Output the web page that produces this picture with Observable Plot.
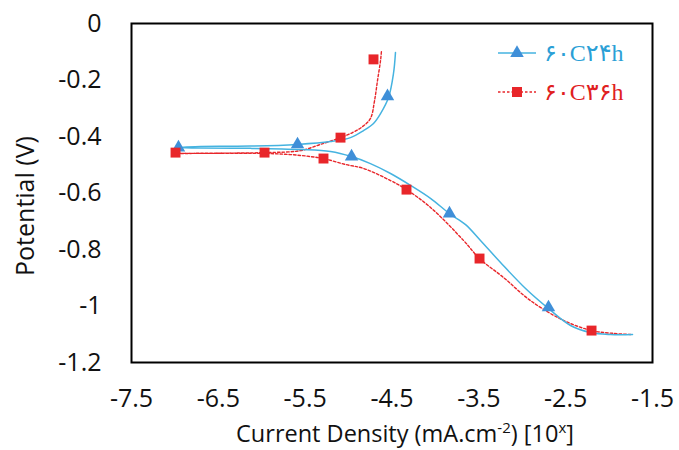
<!DOCTYPE html>
<html>
<head>
<meta charset="utf-8">
<script src="https://cdn.jsdelivr.net/npm/d3@7"></script>
<script src="https://cdn.jsdelivr.net/npm/@observablehq/plot@0.6"></script>
<style>
  html, body { margin: 0; padding: 0; background: #fff; }
  #chart { position: relative; width: 679px; height: 450px; }
  #chart svg { display: block; }
  .leg {
    position: absolute; left: 544px; height: 30px; line-height: 30px;
    font-family: 'Liberation Serif', 'DejaVu Serif', 'DejaVu Sans', serif;
    font-size: 24px; white-space: nowrap; direction: ltr; unicode-bidi: isolate;
  }
</style>
</head>
<body>
<div id="chart"></div>
<script>
// ---- Data ----
const seriesNames = ["\u06F6\u06F0C\u06F2\u06F4h", "\u06F6\u06F0C\u06F3\u06F6h"];

// 60C24h curve: cathodic end -> corrosion tip -> anodic branch
const blueX = [-1.730, -1.984, -2.214, -2.444, -2.698, -2.962, -3.250, -3.481, -3.653, -3.838,
               -4.057, -4.287, -4.517, -4.748, -4.966, -5.208, -5.554, -6.130, -6.705, -6.959,
               -6.705, -6.130, -5.588, -5.208, -4.978, -4.828, -4.713, -4.632, -4.540, -4.483, -4.460];
const blueY = [-1.101, -1.101, -1.094, -1.069, -1.009, -0.938, -0.846, -0.768, -0.712, -0.673,
               -0.619, -0.573, -0.531, -0.496, -0.471, -0.453, -0.446, -0.442, -0.441, -0.439,
               -0.435, -0.434, -0.428, -0.418, -0.404, -0.379, -0.354, -0.319, -0.262, -0.177, -0.103];

// 60C36h curve
const redX = [-1.753, -1.949, -2.202, -2.525, -2.905, -3.216, -3.492, -3.676, -4.057, -4.333,
              -4.517, -4.828, -5.035, -5.289, -5.439, -5.669, -5.968, -6.982,
              -5.968, -5.554, -5.323, -5.093, -4.955, -4.840, -4.748, -4.701, -4.667, -4.632, -4.621];
const redY = [-1.101, -1.097, -1.087, -1.051, -0.981, -0.899, -0.832, -0.768, -0.651, -0.588,
              -0.556, -0.513, -0.499, -0.478, -0.471, -0.464, -0.460, -0.460,
              -0.457, -0.450, -0.428, -0.404, -0.386, -0.365, -0.336, -0.273, -0.202, -0.131, -0.096];

// marker points
const blueMarkX = [-6.959, -5.588, -4.552, -4.966, -3.838, -2.698];
const blueMarkY = [-0.439, -0.428, -0.258, -0.471, -0.673, -1.005];
const redMarkX = [-6.993, -5.968, -5.289, -5.093, -4.713, -4.333, -3.492, -2.202];
const redMarkY = [-0.457, -0.457, -0.478, -0.404, -0.127, -0.588, -0.832, -1.087];

const xTicks = [-7.5, -6.5, -5.5, -4.5, -3.5, -2.5, -1.5];
const yTicks = [0, -0.2, -0.4, -0.6, -0.8, -1, -1.2];

// ---- Build tables ----
const blueLine = blueX.map((x, i) => ({x, y: blueY[i]}));
const redLine = redX.map((x, i) => ({x, y: redY[i]}));
const blueMarks = blueMarkX.map((x, i) => ({x, y: blueMarkY[i]}));
const redMarks = redMarkX.map((x, i) => ({x, y: redMarkY[i]}));

const BLUE_LINE = "#45b3e0";
const BLUE_MARK = "#3f8fd8";
const RED = "#e8262a";
const FONT = "'Open Sans', sans-serif";

const chart = Plot.plot({
  width: 679,
  height: 450,
  marginLeft: 131,
  marginRight: 27,
  marginTop: 23,
  marginBottom: 88,
  style: { fontFamily: FONT, fontSize: "25px", color: "#111", background: "#fff" },
  x: { domain: [-7.5, -1.5], ticks: xTicks, tickFormat: d => String(d), tickSize: 0, tickPadding: 27, label: null },
  y: { domain: [-1.2, 0], ticks: yTicks, tickFormat: d => d === 0 ? "0" : String(d), tickSize: 0, tickPadding: 30, label: null },
  marks: [
    Plot.line(redLine, { x: "x", y: "y", stroke: RED, strokeWidth: 1.4, strokeDasharray: "2.5,2", curve: "catmull-rom" }),
    Plot.line(blueLine, { x: "x", y: "y", stroke: BLUE_LINE, strokeWidth: 1.5, curve: "catmull-rom" }),
    Plot.dot(blueMarks, { x: "x", y: "y", symbol: "triangle", r: 5, fill: BLUE_MARK, stroke: "none" }),
    Plot.dot(redMarks, { x: "x", y: "y", symbol: "square", r: 5.6, fill: RED, stroke: "none" }),
    Plot.frame({ stroke: "#000", strokeWidth: 2 })
  ]
});

const host = document.getElementById("chart");
host.appendChild(chart);

// ---- Axis titles ----
const svg = d3.select(chart);

const xt = svg.append("text")
  .attr("x", 405).attr("y", 442)
  .attr("text-anchor", "middle")
  .style("font-family", FONT).style("font-size", "23.5px").attr("fill", "#111");
xt.append("tspan").text("Current Density (mA.cm");
xt.append("tspan").attr("dy", -9).style("font-size", "15px").text("-2");
xt.append("tspan").attr("dy", 9).text(") [10");
xt.append("tspan").attr("dy", -9).style("font-size", "15px").text("x");
xt.append("tspan").attr("dy", 9).text("]");

svg.append("text")
  .attr("transform", "translate(34,206) rotate(-90)")
  .attr("text-anchor", "middle")
  .style("font-family", FONT).style("font-size", "25px").attr("fill", "#111")
  .text("Potential (V)");

// ---- Legend (symbols in SVG, labels as HTML so LTR order is kept) ----
const legend = [
  { name: seriesNames[0], y: 53, line: BLUE_LINE, mark: BLUE_MARK, symbol: d3.symbolTriangle, dash: null, text: "#2b9fd6" },
  { name: seriesNames[1], y: 92, line: RED, mark: RED, symbol: d3.symbolSquare, dash: "2.5,2", text: "#e0201e" }
];
legend.forEach(l => {
  const g = svg.append("g");
  g.append("line").attr("x1", 498).attr("x2", 536).attr("y1", l.y).attr("y2", l.y)
    .attr("stroke", l.line).attr("stroke-width", 1.5).attr("stroke-dasharray", l.dash);
  g.append("path").attr("transform", `translate(517,${l.y})`)
    .attr("d", d3.symbol(l.symbol, l.symbol === d3.symbolSquare ? 100 : 80)())
    .attr("fill", l.mark);
  const div = document.createElement("div");
  div.className = "leg";
  div.dir = "ltr";
  div.style.top = (l.y - 15) + "px";
  div.style.color = l.text;
  div.textContent = l.name;
  host.appendChild(div);
});
</script>
</body>
</html>
